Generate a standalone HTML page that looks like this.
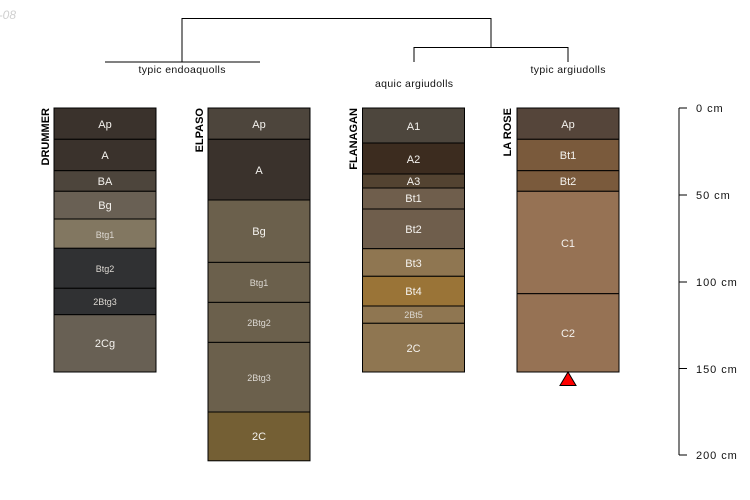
<!DOCTYPE html>
<html><head><meta charset="utf-8"><style>
html,body{margin:0;padding:0;background:#fff}
svg{display:block;font-family:"Liberation Sans",sans-serif}
.h{fill:#f4f2ee;font-size:11px;text-anchor:middle;dominant-baseline:central}
.s{fill:#dcd8d2;font-size:9px;text-anchor:middle;dominant-baseline:central}
.l{fill:#111;font-size:10.5px;text-anchor:middle}
.t{fill:#111;font-size:11px;letter-spacing:.95px}
.n{fill:#000;font-size:11px;font-weight:bold;text-anchor:end}
rect{stroke:#000;stroke-width:1}
line{stroke:#000;stroke-width:1}
</style></head><body>
<svg width="750" height="500" viewBox="0 0 750 500" xmlns="http://www.w3.org/2000/svg">
<text x="16" y="19" font-size="12" font-style="italic" fill="#cfcfcf" text-anchor="end">-08</text>
<line x1="182" y1="18.5" x2="491" y2="18.5"/>
<line x1="182" y1="18" x2="182" y2="62"/>
<line x1="105" y1="62" x2="260" y2="62"/>
<line x1="491" y1="18" x2="491" y2="47"/>
<line x1="414" y1="47.5" x2="568" y2="47.5"/>
<line x1="414" y1="47" x2="414" y2="62"/>
<line x1="568" y1="47" x2="568" y2="62"/>
<text class="l" x="182" y="73" textLength="87">typic endoaquolls</text>
<text class="l" x="414" y="87" textLength="78">aquic argiudolls</text>
<text class="l" x="568" y="73" textLength="75">typic argiudolls</text>

<g>
<rect x="54" y="108" width="102" height="31.3" fill="#3a322c"/>
<rect x="54" y="139.3" width="102" height="31.4" fill="#3a322c"/>
<rect x="54" y="170.7" width="102" height="20.6" fill="#4d453c"/>
<rect x="54" y="191.3" width="102" height="27.7" fill="#696054"/>
<rect x="54" y="219" width="102" height="29.3" fill="#827761"/>
<rect x="54" y="248.3" width="102" height="40" fill="#303133"/>
<rect x="54" y="288.3" width="102" height="26.4" fill="#303133"/>
<rect x="54" y="314.7" width="102" height="57.3" fill="#686054"/>
<text class="h" x="105" y="124.8">Ap</text>
<text class="h" x="105" y="155.8">A</text>
<text class="h" x="105" y="181.8">BA</text>
<text class="h" x="105" y="205.8">Bg</text>
<text class="s" x="105" y="235.2">Btg1</text>
<text class="s" x="105" y="269.2">Btg2</text>
<text class="s" x="105" y="302.2">2Btg3</text>
<text class="h" x="105" y="343.8">2Cg</text>
<text class="n" transform="translate(49 108) rotate(-90)">DRUMMER</text>
</g>

<g>
<rect x="208" y="108" width="102" height="31.3" fill="#4d453c"/>
<rect x="208" y="139.3" width="102" height="60.7" fill="#3a322c"/>
<rect x="208" y="200" width="102" height="62.4" fill="#6b604c"/>
<rect x="208" y="262.4" width="102" height="40" fill="#6b604c"/>
<rect x="208" y="302.4" width="102" height="40" fill="#6b604c"/>
<rect x="208" y="342.4" width="102" height="69.6" fill="#6b604c"/>
<rect x="208" y="412" width="102" height="48.8" fill="#745f34"/>
<text class="h" x="259" y="124.8">Ap</text>
<text class="h" x="259" y="170.8">A</text>
<text class="h" x="259" y="231.8">Bg</text>
<text class="s" x="259" y="283.2">Btg1</text>
<text class="s" x="259" y="323.2">2Btg2</text>
<text class="s" x="259" y="378.2">2Btg3</text>
<text class="h" x="259" y="436.8">2C</text>
<text class="n" transform="translate(203 108) rotate(-90)">ELPASO</text>
</g>

<g>
<rect x="362.5" y="108" width="102" height="35" fill="#4d463d"/>
<rect x="362.5" y="143" width="102" height="31" fill="#3c2c1f"/>
<rect x="362.5" y="174" width="102" height="14" fill="#534331"/>
<rect x="362.5" y="188" width="102" height="21" fill="#6f5e4c"/>
<rect x="362.5" y="209" width="102" height="39.7" fill="#6f5e4c"/>
<rect x="362.5" y="248.7" width="102" height="27.6" fill="#8f7651"/>
<rect x="362.5" y="276.3" width="102" height="29.7" fill="#9a7437"/>
<rect x="362.5" y="306" width="102" height="17.3" fill="#8f7651"/>
<rect x="362.5" y="323.3" width="102" height="48.7" fill="#8f7651"/>
<text class="h" x="413.5" y="126.8">A1</text>
<text class="h" x="413.5" y="159.8">A2</text>
<text class="h" x="413.5" y="181.8">A3</text>
<text class="h" x="413.5" y="198.8">Bt1</text>
<text class="h" x="413.5" y="229.8">Bt2</text>
<text class="h" x="413.5" y="263.8">Bt3</text>
<text class="h" x="413.5" y="291.8">Bt4</text>
<text class="s" x="413.5" y="315.2">2Bt5</text>
<text class="h" x="413.5" y="348.8">2C</text>
<text class="n" transform="translate(357 108) rotate(-90)">FLANAGAN</text>
</g>

<g>
<rect x="517" y="108" width="102" height="31.3" fill="#55453a"/>
<rect x="517" y="139.3" width="102" height="31.4" fill="#7a5a3c"/>
<rect x="517" y="170.7" width="102" height="20.6" fill="#7a5a3c"/>
<rect x="517" y="191.3" width="102" height="102.4" fill="#967254"/>
<rect x="517" y="293.7" width="102" height="78.3" fill="#967254"/>
<text class="h" x="568" y="124.8">Ap</text>
<text class="h" x="568" y="155.8">Bt1</text>
<text class="h" x="568" y="181.8">Bt2</text>
<text class="h" x="568" y="243.8">C1</text>
<text class="h" x="568" y="333.8">C2</text>
<text class="n" transform="translate(511 108) rotate(-90)">LA ROSE</text>
<polygon points="568,372 560,385.5 576,385.5" fill="#ff0000" stroke="#000" stroke-width="1"/>
</g>

<line x1="679" y1="108" x2="679" y2="455"/>
<line x1="679" y1="108" x2="687" y2="108"/>
<line x1="679" y1="195" x2="687" y2="195"/>
<line x1="679" y1="282" x2="687" y2="282"/>
<line x1="679" y1="368.5" x2="687" y2="368.5"/>
<line x1="679" y1="455" x2="687" y2="455"/>
<text class="t" x="696" y="112">0 cm</text>
<text class="t" x="696" y="199">50 cm</text>
<text class="t" x="696" y="286">100 cm</text>
<text class="t" x="696" y="373">150 cm</text>
<text class="t" x="696" y="459">200 cm</text>
</svg>
</body></html>
